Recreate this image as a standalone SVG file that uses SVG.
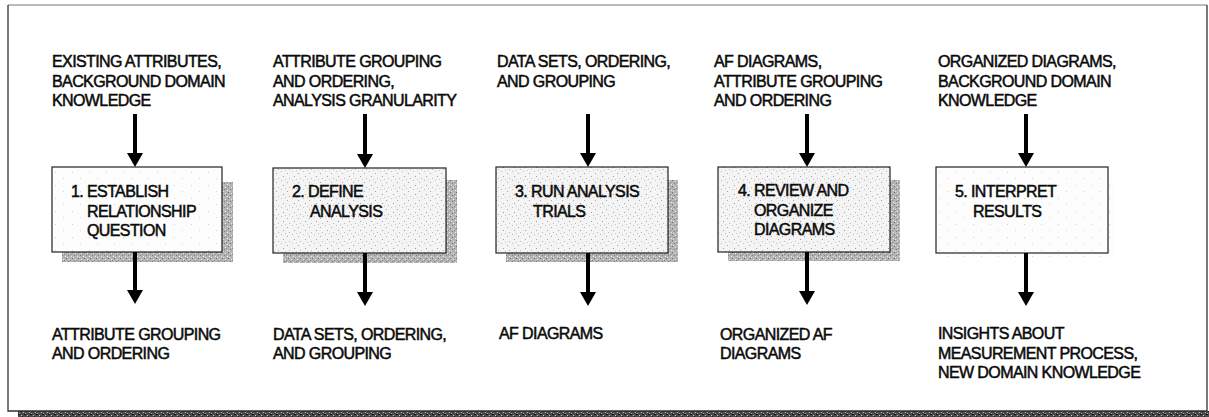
<svg xmlns="http://www.w3.org/2000/svg" width="1209" height="417" viewBox="0 0 1209 417">
<style>
.t{font-family:"Liberation Sans",Arial,Helvetica,sans-serif;font-size:16px;letter-spacing:-0.6px;fill:#0a0a0a;stroke:#0a0a0a;stroke-width:0.5}
.box{stroke:#222;stroke-width:1.2}
.sh{fill:url(#pShadow)}
.conn line{stroke:#000;stroke-width:4;marker-end:url(#ah)}
</style>
<defs>
<pattern id="pLight" width="11" height="9" patternUnits="userSpaceOnUse">
<rect width="11" height="9" fill="#f4f4f4"/>
<rect x="1" y="2" width="1" height="1" fill="#a8a8a8"/>
<rect x="6" y="0" width="1" height="1" fill="#c0c0c0"/>
<rect x="8" y="5" width="1" height="1" fill="#a0a0a0"/>
<rect x="3" y="7" width="1" height="1" fill="#b8b8b8"/>
<rect x="10" y="8" width="1" height="1" fill="#c8c8c8"/>
</pattern>
<pattern id="pWhite" width="17" height="13" patternUnits="userSpaceOnUse">
<rect width="17" height="13" fill="#fdfdfd"/>
<rect x="4" y="3" width="1" height="1" fill="#cfcfcf"/>
<rect x="12" y="9" width="1" height="1" fill="#d6d6d6"/>
</pattern>
<pattern id="pShadow" width="6" height="6" patternUnits="userSpaceOnUse">
<rect width="6" height="6" fill="#b4b4b4"/>
<rect x="0" y="0" width="1" height="1" fill="#6a6a6a"/>
<rect x="3" y="1" width="1" height="1" fill="#eeeeee"/>
<rect x="2" y="3" width="1" height="1" fill="#7a7a7a"/>
<rect x="5" y="4" width="1" height="1" fill="#eeeeee"/>
<rect x="4" y="2" width="1" height="1" fill="#888"/>
<rect x="1" y="5" width="1" height="1" fill="#e4e4e4"/>
</pattern>
<pattern id="pDark" width="6" height="6" patternUnits="userSpaceOnUse">
<rect width="6" height="6" fill="#4a4a4a"/>
<rect x="0" y="0" width="2" height="1" fill="#111"/>
<rect x="3" y="1" width="1" height="1" fill="#c8c8c8"/>
<rect x="2" y="3" width="2" height="1" fill="#1a1a1a"/>
<rect x="5" y="4" width="1" height="1" fill="#bbbbbb"/>
<rect x="4" y="2" width="1" height="1" fill="#222"/>
<rect x="1" y="5" width="1" height="1" fill="#aaaaaa"/>
</pattern>
<marker id="ah" markerUnits="userSpaceOnUse" markerWidth="15" markerHeight="16" viewBox="0 0 14 16" refX="2" refY="8" orient="auto">
<path d="M0,0 L14,8 L0,16 z" fill="#000"/>
</marker>
</defs>
<rect width="1209" height="417" fill="#ffffff"/>
<g id="frame">
<rect x="18" y="411" width="1191" height="6" fill="url(#pDark)"/>
<path d="M8,5 L1207,5" stroke="#777" stroke-width="1" fill="none"/>
<path d="M8,5 L8,411 L1207,411 L1207,5" stroke="#333" stroke-width="1.3" fill="none"/>
</g>
<g id="inputs">
<text class="t" x="52" y="67">EXISTING ATTRIBUTES,</text>
<text class="t" x="52" y="86.5">BACKGROUND DOMAIN</text>
<text class="t" x="52" y="106">KNOWLEDGE</text>
<text class="t" x="273" y="67">ATTRIBUTE GROUPING</text>
<text class="t" x="273" y="86.5">AND ORDERING,</text>
<text class="t" x="273" y="106">ANALYSIS GRANULARITY</text>
<text class="t" x="497" y="67">DATA SETS, ORDERING,</text>
<text class="t" x="497" y="86.5">AND GROUPING</text>
<text class="t" x="714" y="67">AF DIAGRAMS,</text>
<text class="t" x="714" y="86.5">ATTRIBUTE GROUPING</text>
<text class="t" x="714" y="106">AND ORDERING</text>
<text class="t" x="938" y="67">ORGANIZED DIAGRAMS,</text>
<text class="t" x="938" y="86.5">BACKGROUND DOMAIN</text>
<text class="t" x="938" y="106">KNOWLEDGE</text>
</g>
<g id="step1">
<path class="sh" d="M222,182 H233 V262 H62 V252 H222 Z"/>
<rect class="box" x="52" y="167" width="170" height="85" fill="url(#pWhite)"/>
<text class="t" x="71" y="197">1. ESTABLISH</text>
<text class="t" x="87" y="216.5">RELATIONSHIP</text>
<text class="t" x="87" y="235.5">QUESTION</text>
</g>
<g id="step2">
<path class="sh" d="M446,180 H457 V263 H283 V253 H446 Z"/>
<rect class="box" x="273" y="168" width="173" height="85" fill="url(#pLight)"/>
<text class="t" x="292" y="197">2. DEFINE</text>
<text class="t" x="310" y="216.5">ANALYSIS</text>
</g>
<g id="step3">
<path class="sh" d="M668,180 H678 V262 H506 V253 H668 Z"/>
<rect class="box" x="496" y="167" width="172" height="86" fill="url(#pLight)"/>
<text class="t" x="515" y="197">3. RUN ANALYSIS</text>
<text class="t" x="533" y="216.5">TRIALS</text>
</g>
<g id="step4">
<path class="sh" d="M890,180 H900 V261 H728 V252 H890 Z"/>
<rect class="box" x="718" y="167" width="172" height="85" fill="url(#pLight)"/>
<text class="t" x="738" y="196">4. REVIEW AND</text>
<text class="t" x="754" y="215.5">ORGANIZE</text>
<text class="t" x="754" y="234.5">DIAGRAMS</text>
</g>
<g id="step5">
<path d="M1108,180 H1114 V258 H946 V253 H1108 Z" fill="url(#pWhite)"/>
<rect class="box" x="936" y="167" width="172" height="86" fill="url(#pWhite)"/>
<text class="t" x="955" y="197">5. INTERPRET</text>
<text class="t" x="973" y="216.5">RESULTS</text>
</g>
<g id="outputs">
<text class="t" x="52" y="340">ATTRIBUTE GROUPING</text>
<text class="t" x="52" y="359">AND ORDERING</text>
<text class="t" x="273" y="340">DATA SETS, ORDERING,</text>
<text class="t" x="273" y="359">AND GROUPING</text>
<text class="t" x="499" y="339">AF DIAGRAMS</text>
<text class="t" x="720" y="340">ORGANIZED AF</text>
<text class="t" x="720" y="359">DIAGRAMS</text>
<text class="t" x="938" y="339">INSIGHTS ABOUT</text>
<text class="t" x="938" y="358.5">MEASUREMENT PROCESS,</text>
<text class="t" x="938" y="378">NEW DOMAIN KNOWLEDGE</text>
</g>
<g id="connectors" class="conn">
<line x1="135" y1="114" x2="135" y2="155"/>
<line x1="135" y1="252" x2="135" y2="292"/>
<line x1="365" y1="114" x2="365" y2="156"/>
<line x1="365" y1="253" x2="365" y2="294"/>
<line x1="588" y1="114" x2="588" y2="155"/>
<line x1="588" y1="253" x2="588" y2="294"/>
<line x1="807" y1="114" x2="807" y2="155"/>
<line x1="807" y1="252" x2="807" y2="293"/>
<line x1="1026" y1="114" x2="1026" y2="155"/>
<line x1="1026" y1="253" x2="1026" y2="294"/>
</g>
</svg>
